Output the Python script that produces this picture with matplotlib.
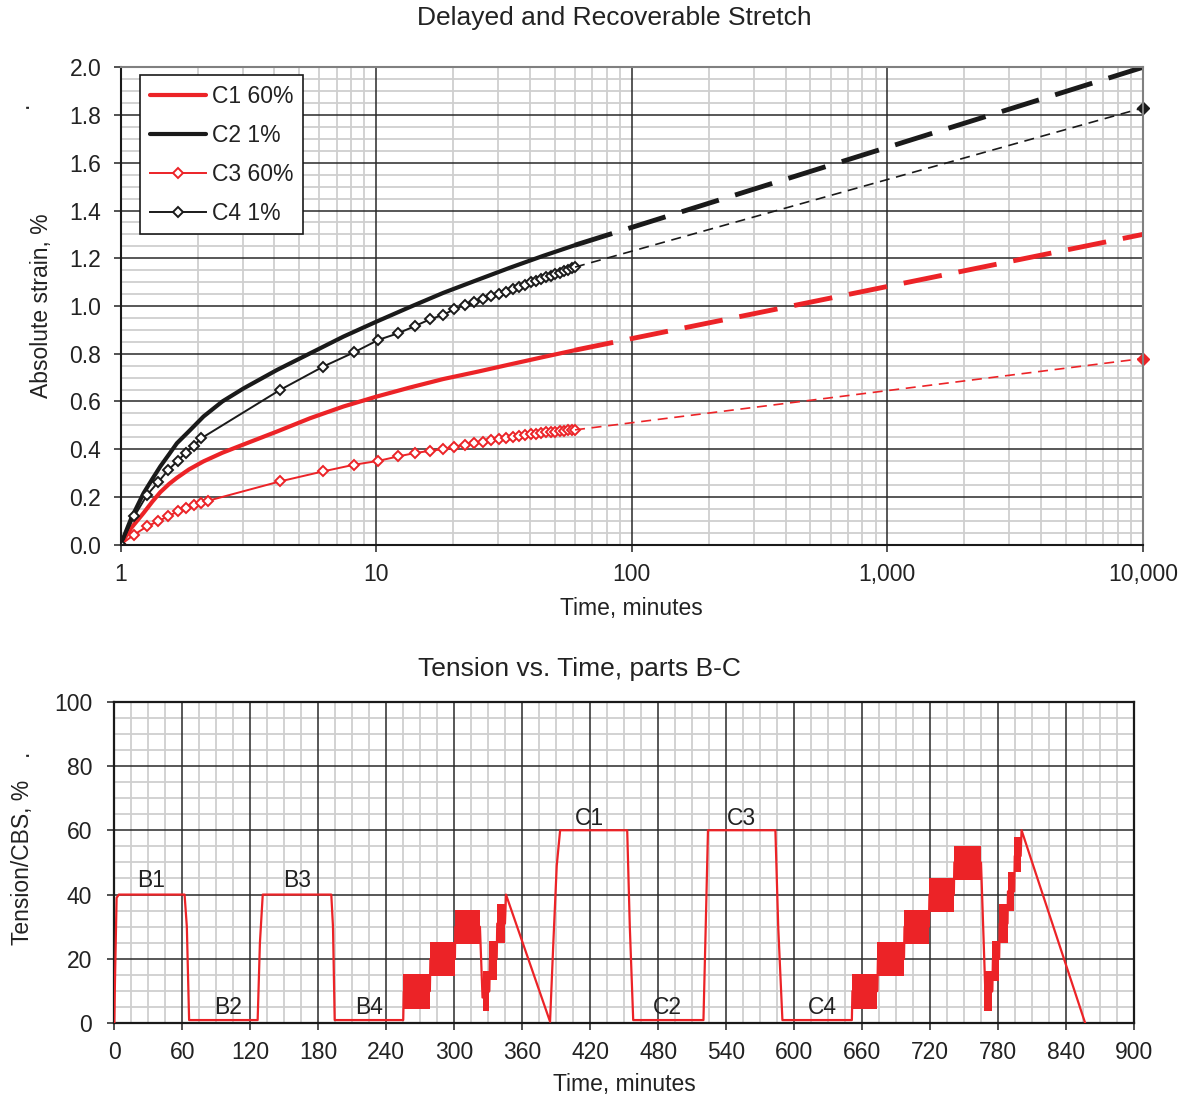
import numpy as np
import matplotlib
matplotlib.use("Agg")
import matplotlib.pyplot as plt
from matplotlib.ticker import MultipleLocator, LogLocator, FuncFormatter, NullFormatter

plt.rcParams['font.family'] = ['Liberation Sans', 'DejaVu Sans']
plt.rcParams['text.color'] = '#222222'
plt.rcParams['axes.labelcolor'] = '#222222'
plt.rcParams['xtick.color'] = '#222222'
plt.rcParams['ytick.color'] = '#222222'

RED = '#ec2327'
BLACK = '#1a1a1a'

# --- Delayed and recoverable stretch (measured to ~60 min, extrapolated to 10,000 min)
c1_t = [1, 1.1, 1.23, 1.33, 1.43, 1.55, 1.66, 1.85, 2.11, 2.5, 3.03, 4.09, 5.52, 7.45,
        10, 13.5, 18.3, 25, 33.3, 45, 60]
c1_v = [0, 0.07, 0.133, 0.18, 0.22, 0.255, 0.28, 0.315, 0.349, 0.385, 0.42, 0.474, 0.53, 0.579,
        0.62, 0.658, 0.694, 0.725, 0.755, 0.786, 0.815]

c2_t = [1, 1.1, 1.23, 1.33, 1.43, 1.55, 1.66, 1.85, 2.11, 2.5, 3.03, 4.09, 5.52, 7.45,
        10, 13.5, 18.3, 25, 33.3, 45, 60]
c2_v = [0, 0.11, 0.216, 0.275, 0.328, 0.38, 0.425, 0.475, 0.537, 0.6, 0.655, 0.732, 0.802, 0.872,
        0.934, 0.995, 1.055, 1.11, 1.16, 1.21, 1.255]

c3_t = [1.0, 1.13, 1.27, 1.4, 1.53, 1.67, 1.8, 1.93, 2.07, 2.2, 4.2, 6.2, 8.2,
        10.2, 12.2, 14.2, 16.2, 18.2, 20.2, 22.2, 24.2, 26.2, 28.2, 30.2, 32.2, 34.2,
        36.2, 38.2, 40.2, 42.2, 44.2, 46.2, 48.2, 50.2, 52.2, 54.2, 56.2, 58.2, 60.2]
c3_v = [0, 0.042, 0.077, 0.098, 0.118, 0.139, 0.153, 0.167, 0.174, 0.184, 0.265, 0.307, 0.335,
        0.351, 0.370, 0.384, 0.393, 0.400, 0.411, 0.418, 0.425, 0.432, 0.438, 0.443, 0.448, 0.452,
        0.456, 0.459, 0.462, 0.465, 0.467, 0.470, 0.472, 0.474, 0.476, 0.477, 0.479, 0.480, 0.481]

c4_t = [1.0, 1.13, 1.27, 1.4, 1.53, 1.67, 1.8, 1.93, 2.07, 4.2, 6.2, 8.2,
        10.2, 12.2, 14.2, 16.2, 18.2, 20.2, 22.2, 24.2, 26.2, 28.2, 30.2, 32.2, 34.2,
        36.2, 38.2, 40.2, 42.2, 44.2, 46.2, 48.2, 50.2, 52.2, 54.2, 56.2, 58.2, 60.2]
c4_v = [0, 0.118, 0.209, 0.261, 0.311, 0.351, 0.386, 0.414, 0.446, 0.648, 0.746, 0.806,
        0.858, 0.886, 0.916, 0.944, 0.962, 0.986, 1.004, 1.018, 1.030, 1.040, 1.049, 1.060, 1.070,
        1.080, 1.090, 1.099, 1.106, 1.113, 1.120, 1.126, 1.133, 1.140, 1.146, 1.152, 1.158, 1.163]

ext_t = [60, 10000]
c1_ext = [0.815, 1.30]
c2_ext = [1.255, 2.0]
c3_ext = [0.481, 0.78]
c4_ext = [1.163, 1.83]

# --- Tension history, parts B-C
tension_t = [0, 0.5, 2, 4, 62, 64, 66, 126.5, 128.5, 131, 191.5, 193, 194.5,
             255, 255.5, 278.5, 279, 300.6, 301, 322.7, 325, 331, 331.5, 337.5, 338, 344.8,
             345.7, 384.6, 387.5, 390.5, 393.5, 452.7, 455, 458, 520, 522, 524, 583.5, 586, 589.7,
             651, 651.5, 673.5, 674, 697, 697.5, 719, 719.5, 741, 741.5, 765, 769, 775, 775.5,
             781, 781.5, 788.4, 788.8, 794.3, 794.8, 800, 800.8, 857]
tension_v = [0, 12, 39, 40, 40, 30, 1, 1, 25, 40, 40, 30, 1,
             1, 10, 10, 20, 20, 30, 30, 8, 10, 20, 20, 31, 31,
             40, 0.5, 25, 49, 60, 60, 30, 1, 1, 30, 60, 60, 30, 1,
             1, 10, 10, 20, 20, 30, 30, 40, 40, 50, 50, 8, 10, 20,
             20, 31, 31, 41, 41, 52, 52, 60, 0]

# cyclic loading blocks: start, end, min and max tension
cyc_start = [255, 278.5, 300.6, 325, 331, 337.5, 651, 673.5, 697, 719, 741, 767.8, 775, 781, 788.4, 794.3]
cyc_end = [278.5, 300.6, 322.7, 331, 337.5, 344.8, 673.5, 697, 719, 741, 765, 775, 781, 788.4, 794.3, 800]
cyc_min = [4.3, 14.7, 24.7, 3.8, 13.5, 25, 4.3, 14.7, 24.7, 34.6, 44.5, 3.8, 13.2, 25, 35, 47]
cyc_max = [15.3, 25.2, 35.1, 16.3, 25.7, 37, 15.3, 25.2, 35.1, 45, 55, 16.3, 25.7, 37, 47, 58]

part_names = ['B1', 'B2', 'B3', 'B4', 'C1', 'C2', 'C3', 'C4']
part_x = [32.7, 100, 161, 224.6, 419, 488, 553.5, 625]
part_y = [44.5, 4.8, 44.5, 4.8, 63.8, 4.8, 63.8, 4.8]


def style_grid(ax):
    # light minor grid from the axis, dark major grid drawn on top of it
    ax.set_axisbelow(True)
    ax.grid(which='minor', color='#cfcfcf', lw=1.3)
    ax.grid(which='major', visible=False)
    x0, x1 = ax.get_xlim()
    y0, y1 = ax.get_ylim()
    for v in ax.get_xticks():
        if x0 < v < x1:
            ax.axvline(v, color='#2a2a2a', lw=1.1, zorder=1)
    for v in ax.get_yticks():
        if y0 < v < y1:
            ax.axhline(v, color='#2a2a2a', lw=1.1, zorder=1)
    ax.tick_params(which='major', direction='out', length=5, width=1.1, labelsize=16.5)
    ax.tick_params(which='minor', length=0)


fig = plt.figure(figsize=(11.91, 10.97), dpi=100)

# top chart
ax1 = fig.add_axes([0.1013, 0.5035, 0.8582, 0.4351])
ax1.plot(c1_t, c1_v, color=RED, lw=3, label='C1 60%', solid_capstyle='round')
ax1.plot(c2_t, c2_v, color=BLACK, lw=3, label='C2 1%', solid_capstyle='round')
ax1.plot(c3_t, c3_v, color=RED, lw=1.4, marker='D', ms=5, mfc='white', mew=1.4, label='C3 60%')
ax1.plot(c4_t, c4_v, color=BLACK, lw=1.4, marker='D', ms=5, mfc='white', mew=1.4, label='C4 1%')
ax1.plot(ext_t, c1_ext, color=RED, lw=3.5, dashes=(8, 3.5))
ax1.plot(ext_t, c2_ext, color=BLACK, lw=3.5, dashes=(8, 3.5))
ax1.plot(ext_t, c3_ext, color=RED, lw=1.2, dashes=(6, 4))
ax1.plot(ext_t, c4_ext, color=BLACK, lw=1.2, dashes=(6, 4))
ax1.plot(ext_t[1:], c3_ext[1:], ls='none', marker='D', ms=6, color=RED, clip_on=False)
ax1.plot(ext_t[1:], c4_ext[1:], ls='none', marker='D', ms=6, color=BLACK, clip_on=False)

ax1.set_xscale('log')
ax1.set_xlim(1, 10000)
ax1.set_ylim(0, 2.0)
ax1.xaxis.set_major_locator(LogLocator(base=10))
ax1.xaxis.set_minor_locator(LogLocator(base=10, subs=np.arange(2, 10)))
ax1.xaxis.set_major_formatter(FuncFormatter(lambda v, p: f"{v:,.0f}"))
ax1.xaxis.set_minor_formatter(NullFormatter())
ax1.yaxis.set_major_locator(MultipleLocator(0.2))
ax1.yaxis.set_minor_locator(MultipleLocator(0.05))
ax1.yaxis.set_major_formatter(FuncFormatter(lambda v, p: f"{v:.1f}"))
style_grid(ax1)
ax1.tick_params(axis='y', pad=9)
ax1.tick_params(axis='x', pad=8)
for side in ['left', 'bottom']:
    ax1.spines[side].set_color(BLACK)
    ax1.spines[side].set_linewidth(1.5)
for side in ['top', 'right']:
    ax1.spines[side].set_color('#808080')
    ax1.spines[side].set_linewidth(1.5)

fig.text(0.5155, 0.9836, 'Delayed and Recoverable Stretch', fontsize=19, ha='center', va='center')
ax1.set_xlabel('Time, minutes', fontsize=16.5, labelpad=8)
ax1.set_ylabel('Absolute strain, %', fontsize=16.5, labelpad=12)
fig.text(0.018, 0.904, '.', fontsize=16.5, ha='center', va='center', rotation=90)

leg = ax1.legend(loc='upper left', bbox_to_anchor=(0.019, 0.984), borderaxespad=0,
                 fontsize=16.5, handlelength=2.45, handletextpad=0.25, labelspacing=0.7,
                 borderpad=0.42, fancybox=False, framealpha=1, edgecolor=BLACK)
leg.get_frame().set_linewidth(1.2)

# bottom chart
ax2 = fig.add_axes([0.0960, 0.0672, 0.8561, 0.2933])
ax2.bar(cyc_start, np.array(cyc_max) - np.array(cyc_min), bottom=cyc_min,
        width=np.array(cyc_end) - np.array(cyc_start), align='edge', color=RED, lw=0, zorder=2)
ax2.plot(tension_t, tension_v, color=RED, lw=1.6, zorder=3)
for name, x, y in zip(part_names, part_x, part_y):
    ax2.text(x, y, name, fontsize=16.5, ha='center', va='center', zorder=4)

ax2.set_xlim(0, 900)
ax2.set_ylim(0, 100)
ax2.xaxis.set_major_locator(MultipleLocator(60))
ax2.xaxis.set_minor_locator(MultipleLocator(15))
ax2.yaxis.set_major_locator(MultipleLocator(20))
ax2.yaxis.set_minor_locator(MultipleLocator(5))
style_grid(ax2)
ax2.tick_params(axis='y', pad=11)
ax2.tick_params(axis='x', pad=8)
for side in ax2.spines:
    ax2.spines[side].set_color(BLACK)
    ax2.spines[side].set_linewidth(1.6)

fig.text(0.4866, 0.3901, 'Tension vs. Time, parts B-C', fontsize=19, ha='center', va='center')
ax2.set_xlabel('Time, minutes', fontsize=16.5, labelpad=6)
ax2.set_ylabel('Tension/CBS, %', fontsize=16.5, labelpad=14)
fig.text(0.018, 0.3136, '.', fontsize=16.5, ha='center', va='center', rotation=90)

fig.savefig('out.png', dpi=100)
